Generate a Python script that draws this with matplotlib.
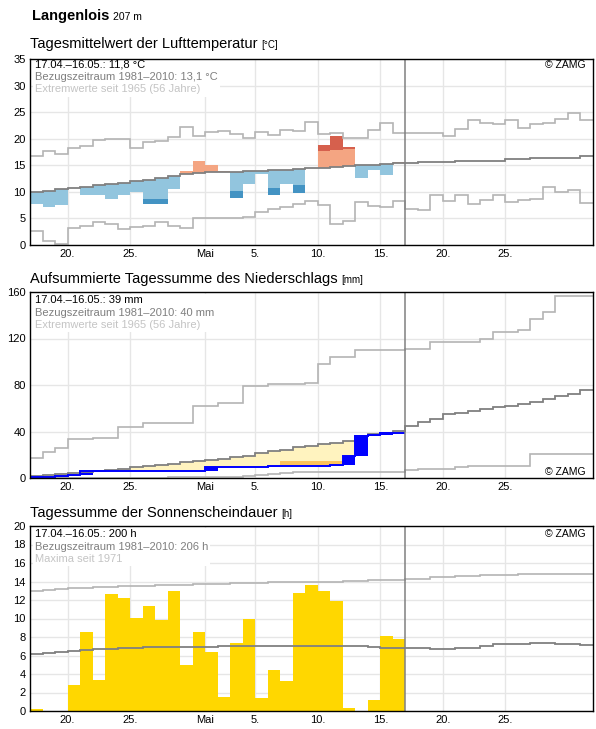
import numpy as np
import matplotlib.pyplot as plt
from matplotlib.patches import Rectangle
from matplotlib.transforms import Bbox

plt.rcParams['font.family'] = ['Liberation Sans', 'DejaVu Sans']

W, H = 596, 729

# days counted from 17 April (day 0) to 31 May (day 44)
edges = np.arange(46)
xtick_pos = [3, 8, 14, 18, 23, 28, 33, 38]
xtick_labels = ['20.', '25.', 'Mai', '5.', '10.', '15.', '20.', '25.']
today = 30

# temperature [°C]
temp_norm = [9.9, 10.1, 10.5, 10.7, 10.9, 11.2, 11.4, 11.7, 12.1, 12.3, 12.6, 13.0, 13.3, 13.5, 13.7,
             13.7, 13.8, 13.9, 13.9, 14.1, 14.1, 14.3, 14.5, 14.5, 14.7, 14.9, 15.0, 15.1, 15.2, 15.4,
             15.4, 15.6, 15.6, 15.6, 15.8, 15.8, 15.8, 15.9, 16.1, 16.1, 16.3, 16.4, 16.4, 16.4, 16.7]
temp_max = [16.8, 17.7, 17.1, 18.3, 18.6, 19.8, 19.9, 20.0, 18.3, 19.3, 19.6, 20.3, 22.2, 20.6, 21.2,
            21.4, 20.8, 20.2, 21.3, 20.7, 21.7, 21.5, 23.2, 20.9, 21.1, 20.2, 20.2, 21.7, 23.0, 21.1,
            21.1, 21.1, 21.1, 20.5, 21.8, 23.5, 23.0, 22.8, 23.5, 22.0, 22.8, 23.0, 23.7, 24.9, 23.5]
temp_min = [2.7, 0.8, 0.2, 3.2, 3.5, 4.4, 4.0, 3.0, 3.3, 3.6, 4.4, 3.6, 3.2, 5.0, 5.0,
            5.0, 5.0, 5.2, 6.2, 6.7, 7.2, 7.7, 8.2, 7.5, 4.0, 4.5, 8.1, 7.4, 7.2, 8.2,
            6.7, 6.5, 9.4, 8.3, 9.4, 7.7, 8.5, 9.4, 8.1, 8.5, 8.7, 11.0, 10.0, 10.4, 7.9]
temp_obs = [7.7, 7.1, 7.5, 10.7, 9.5, 9.5, 8.6, 9.5, 9.9, 7.7, 7.7, 10.6, 14.0, 15.9, 15.0,
            14.0, 8.9, 11.4, 13.3, 9.4, 11.4, 9.7, 14.5, 18.9, 20.6, 18.5, 12.7, 14.2, 13.1, 15.7]
nan = np.nan
temp_dark = [nan, nan, nan, nan, nan, nan, nan, nan, nan, 8.6, 8.7, nan, nan, nan, nan,
             nan, 10.2, nan, nan, 10.8, nan, 11.2, nan, 17.6, 17.8, 18.0, nan, nan, nan, nan]

# precipitation, accumulated [mm]
prec_norm = [1.4, 2.3, 3.4, 4.6, 5.4, 6.3, 7.1, 8.0, 9.1, 10.0, 10.9, 12.3, 13.7, 14.9, 15.7,
             16.6, 18.0, 19.1, 21.4, 22.9, 24.0, 26.3, 27.1, 29.4, 30.3, 31.4, 36.3, 37.7, 39.1, 40.3,
             44.9, 48.6, 50.6, 54.9, 56.3, 58.0, 59.7, 61.1, 62.3, 63.7, 65.7, 68.0, 70.6, 72.0, 75.4]
prec_max = [17.1, 22.0, 25.7, 33.4, 33.4, 34.3, 34.3, 44.3, 44.3, 47.1, 47.1, 47.1, 47.1, 62.3, 62.3,
            64.9, 64.9, 78.9, 78.9, 81.1, 81.1, 81.1, 82.0, 97.7, 103.7, 103.7, 110.0, 110.0, 110.0, 110.0,
            110.6, 110.6, 116.6, 116.6, 116.6, 116.6, 119.4, 125.4, 125.4, 126.9, 137.1, 142.6, 156.3, 156.3, 156.3]
prec_min = [0, 0, 0, 0, 0, 0, 0, 0, 0, 0, 0, 0.9, 0.9, 0.9, 0.9,
            0.9, 0.9, 2.0, 2.9, 3.7, 4.3, 5.0, 5.1, 5.1, 5.1, 5.1, 5.1, 5.1, 5.1, 5.1,
            6.6, 7.7, 7.7, 7.7, 9.1, 10.6, 10.6, 10.6, 10.6, 10.6, 20.6, 20.6, 20.6, 20.6, 20.6]
prec_obs = [0.5, 0.5, 1.4, 2.9, 6.3, 6.3, 6.3, 6.3, 6.3, 6.3, 6.3, 6.3, 6.3, 6.3, 9.1,
            9.7, 9.7, 9.7, 9.7, 10.0, 10.0, 10.0, 10.0, 10.0, 11.0, 18.6, 35.7, 36.6, 38.6, 39.0]
prec_dark = [nan] * 19 + [11.4, 14.3, 14.3, 14.9, 14.9, 14.9] + [nan] * 5

# sunshine duration [h]
sun_norm = [6.2, 6.3, 6.4, 6.5, 6.6, 6.7, 6.75, 6.8, 6.85, 6.9, 6.9, 6.9, 6.9, 6.9, 6.95,
            7.0, 7.0, 7.0, 7.0, 7.0, 7.0, 7.0, 7.0, 7.0, 7.0, 7.0, 7.0, 6.9, 6.8, 6.8,
            6.8, 6.8, 6.7, 6.7, 6.8, 6.8, 7.0, 7.2, 7.2, 7.2, 7.3, 7.3, 7.2, 7.2, 7.1]
sun_max = [13.0, 13.1, 13.2, 13.3, 13.35, 13.4, 13.45, 13.5, 13.5, 13.55, 13.6, 13.6, 13.65, 13.7, 13.7,
           13.75, 13.8, 13.8, 13.85, 13.9, 13.9, 13.9, 13.9, 13.9, 13.9, 14.1, 14.1, 14.2, 14.2, 14.2,
           14.3, 14.3, 14.5, 14.5, 14.6, 14.6, 14.7, 14.7, 14.7, 14.8, 14.8, 14.8, 14.8, 14.8, 14.8]
sun_obs = [0.2, 0, 0, 2.8, 8.5, 3.3, 12.7, 12.2, 10.1, 11.3, 9.8, 13.0, 5.0, 8.5, 6.4,
           1.5, 7.3, 9.9, 1.4, 4.4, 3.2, 12.8, 13.6, 13.0, 11.9, 0.3, 0, 1.2, 8.1, 7.8]

NORM_C = '#808080'
EXT_C = '#b4b4b4'

fig = plt.figure(figsize=(W / 100, H / 100), dpi=100)


def make_axes(top, bottom, ymax, yticks):
    ax = fig.add_axes([30 / W, 1 - bottom / H, 563 / W, (bottom - top) / H])
    ax.set_xlim(0, 45)
    ax.set_ylim(0, ymax)
    ax.set_xticks(xtick_pos)
    ax.set_xticklabels(xtick_labels)
    ax.set_yticks(yticks)
    ax.tick_params(length=0, labelsize=8, pad=3)
    ax.grid(True, color='#e6e6e6', lw=1)
    ax.set_axisbelow(True)
    for s in ax.spines.values():
        s.set_color('black')
        s.set_linewidth(1)
        s.set_zorder(7)
    ax.axvline(today, color=NORM_C, lw=1.1, zorder=5)
    return ax


def px_text(x, y, s, **kw):
    return fig.text(x / W, 1 - y / H, s, **kw)


blocks = []


def info_text(ax, y0, lines):
    ts = [px_text(35, y0 + 12.5 * i, s, fontsize=8, color=c, va='center', zorder=10)
          for i, (s, c) in enumerate(zip(lines, ['black', '#7f7f7f', '#c4c4c4']))]
    blocks.append((ax, ts))


# ---------- temperature ----------
ax1 = make_axes(59, 245, 35, range(0, 36, 5))
for d in range(len(temp_obs)):
    n, o, k = temp_norm[d], temp_obs[d], temp_dark[d]
    below = o < n
    light = '#92c5de' if below else '#f4a582'
    dark = '#4393c3' if below else '#d6604d'
    edge = o if np.isnan(k) else k
    ax1.bar(d, edge - n, bottom=n, width=1, align='edge', color=light, lw=0, zorder=2)
    if not np.isnan(k):
        ax1.bar(d, o - k, bottom=k, width=1, align='edge', color=dark, lw=0, zorder=2)
ax1.stairs(temp_max, edges, baseline=None, color=EXT_C, lw=1.2, zorder=3)
ax1.stairs(temp_min, edges, baseline=None, color=EXT_C, lw=1.2, zorder=3)
ax1.stairs(temp_norm, edges, baseline=None, color=NORM_C, lw=1.3, zorder=4)

# ---------- precipitation ----------
ax2 = make_axes(292, 478, 160, [0, 40, 80, 120, 160])
prev = 0
for d in range(len(prec_obs)):
    n, o, k = prec_norm[d], prec_obs[d], prec_dark[d]
    if o < n:
        lo = o if np.isnan(k) else k
        ax2.bar(d, n - lo, bottom=lo, width=1, align='edge', color='#fff3bf', lw=0, zorder=2)
        if not np.isnan(k):
            ax2.bar(d, k - o, bottom=o, width=1, align='edge', color='#fdc25a', lw=0, zorder=2)
    if o > prev:
        ax2.bar(d, o - prev, bottom=prev, width=1, align='edge', color='#0000ff', lw=0, zorder=3)
    prev = o
ax2.stairs(prec_max, edges, baseline=None, color=EXT_C, lw=1.2, zorder=3)
ax2.stairs(prec_min, edges, baseline=None, color=EXT_C, lw=1.2, zorder=3)
ax2.stairs(prec_norm, edges, baseline=None, color=NORM_C, lw=1.3, zorder=4)
ax2.stairs(prec_obs, edges[:31], baseline=None, color='#0000ff', lw=1.4, zorder=4)

# ---------- sunshine ----------
ax3 = make_axes(526, 711, 20, range(0, 21, 2))
ax3.bar(np.arange(len(sun_obs)), sun_obs, width=1, align='edge', color='#ffd700', lw=0, zorder=2)
ax3.stairs(sun_max, edges, baseline=None, color=EXT_C, lw=1.2, zorder=3)
ax3.stairs(sun_norm, edges, baseline=None, color=NORM_C, lw=1.3, zorder=4)

# ---------- texts ----------
px_text(32, 20, 'Langenlois', fontsize=10.5, fontweight='bold', va='baseline')
titles = [(48, 'Tagesmittelwert der Lufttemperatur', '[°C]'),
          (283, 'Aufsummierte Tagessumme des Niederschlags', '[mm]'),
          (517, 'Tagessumme der Sonnenscheindauer', '[h]')]
main_texts = [(px_text(30, y, t, fontsize=10.5, va='baseline'), y, u) for y, t, u in titles]

info_text(ax1, 64.5, ['17.04.–16.05.: 11,8 °C', 'Bezugszeitraum 1981–2010: 13,1 °C',
                      'Extremwerte seit 1965 (56 Jahre)'])
info_text(ax2, 300, ['17.04.–16.05.: 39 mm', 'Bezugszeitraum 1981–2010: 40 mm',
                     'Extremwerte seit 1965 (56 Jahre)'])
info_text(ax3, 534, ['17.04.–16.05.: 200 h', 'Bezugszeitraum 1981–2010: 206 h',
                     'Maxima seit 1971'])
for ax, y in ((ax1, 65), (ax2, 472), (ax3, 534)):
    blocks.append((ax, [px_text(586, y, '© ZAMG', fontsize=7.5, ha='right', va='center', zorder=10)]))

fig.canvas.draw()
r = fig.canvas.get_renderer()
head = fig.texts[0].get_window_extent(r)
px_text(head.x1 + 4, 20, '207 m', fontsize=7.5, va='baseline')
for t, y, u in main_texts:
    bb = t.get_window_extent(r)
    px_text(bb.x1 + 4, y, u, fontsize=7, va='baseline')

# white boxes behind the annotation blocks (inside the axes, below the frame)
for ax, ts in blocks:
    bb = Bbox.union([t.get_window_extent(r) for t in ts])
    ax.add_patch(Rectangle((bb.x0 - 2, bb.y0 - 2), bb.width + 4, bb.height + 3,
                           transform=None, facecolor='white', edgecolor='none', zorder=6))

fig.savefig('out.png', dpi=100)
